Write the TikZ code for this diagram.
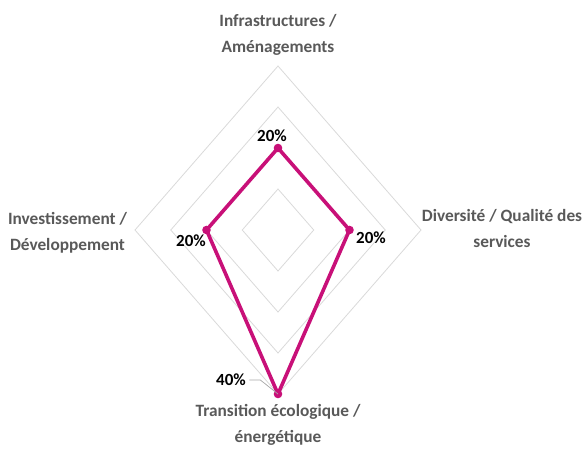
\documentclass[tikz,border=0pt]{standalone}
\usepackage{fontspec}
\setmainfont{Carlito}
\usepackage{xcolor}
\usepackage{tikz}
\usetikzlibrary{calc}

\definecolor{serie}{RGB}{200,16,120}
\definecolor{grille}{RGB}{217,217,217}
\definecolor{texte}{RGB}{89,89,89}

\tikzset{
  axe/.style = {text = texte, align = center, font = \fontsize{17.3}{25.6}\selectfont\bfseries, anchor = base},
  valeur/.style = {text = black, font = \fontsize{17}{20}\selectfont\bfseries}
}

\begin{document}
\begin{tikzpicture}[x = 1pt, y = -1pt]
  \useasboundingbox (0,0) rectangle (587,448);

  \begin{scope}[shift = {(278,230)}, x = 35.75pt, y = 41pt]
    \foreach \r in {1,2,3,4}
      \draw[grille, line width = 0.8pt] (0,\r) -- (\r,0) -- (0,-\r) -- (-\r,0) -- cycle;

    \coordinate (p1) at (0,2);
    \coordinate (p2) at (2,0);
    \coordinate (p3) at (0,-4);
    \coordinate (p4) at (-2,0);

    \draw[serie, line width = 3.6pt, line join = round] (p1) -- (p2) -- (p3) -- (p4) -- cycle;
    \foreach \p in {p1,p2,p3,p4}
      \fill[serie] (\p) circle (4.3pt);
  \end{scope}

  % noms des axes
  \node[axe] (infra) at (278,52.3) {Infrastructures /\\Aménagements};
  \node[axe] (diver) at (502,247.5) {Diversité / Qualité des\\services};
  \node[axe] (trans) at (278,442.5) {Transition écologique /\\énergétique};
  \node[axe] (inves) at (67.5,250) {Investissement /\\Développement};

  % etiquettes
  \node[valeur] (v1) at (272,136) {20\%};
  \node[valeur] (v2) at (371,238) {20\%};
  \node[valeur] (v3) at (231,380) {40\%};
  \node[valeur] (v4) at (191,241) {20\%};

  \draw[black!35, line width = 0.7pt] (v3.east) -- ++(11,0) -- (p3);
\end{tikzpicture}
\end{document}
